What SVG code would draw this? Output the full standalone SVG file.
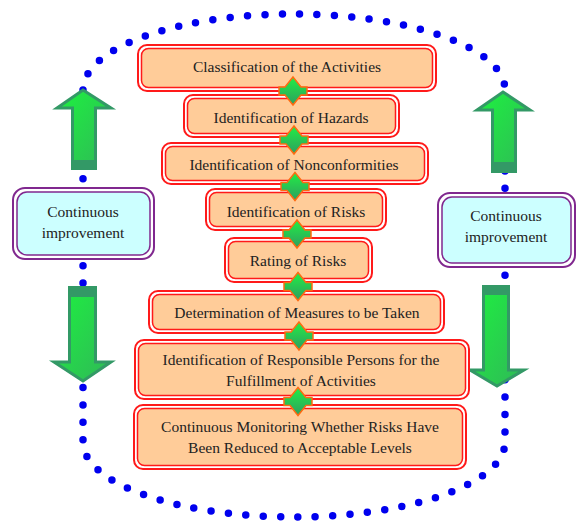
<svg xmlns="http://www.w3.org/2000/svg" width="577" height="522" viewBox="0 0 577 522">
<defs>
<linearGradient id="ag" x1="0" y1="0" x2="1" y2="1">
<stop offset="0" stop-color="#1DF23F"/>
<stop offset="1" stop-color="#30B858"/>
</linearGradient>
<linearGradient id="cg" x1="0" y1="0" x2="0" y2="1">
<stop offset="0" stop-color="#22EE44"/>
<stop offset="1" stop-color="#2E9E60"/>
</linearGradient>
<style>
.outer{fill:#fff;stroke:#FF1A1A;stroke-width:2}
.inner{fill:#FFCC99;stroke:#FF1A1A;stroke-width:1.5}
.pout{fill:#fff;stroke:#80288F;stroke-width:2}
.pin{fill:#CCFFFF;stroke:#80288F;stroke-width:1.5}
.t{font-family:"Liberation Serif","Times New Roman",serif;font-size:15.5px;fill:#222;text-anchor:middle}
.arrow{fill:url(#ag);stroke:#339966;stroke-width:3;stroke-linejoin:miter}
.band{fill:#339966}
.conn{fill:url(#cg);stroke:#FF6A10;stroke-width:1.5;stroke-linejoin:miter}
.dots{fill:none;stroke:#0000EE;stroke-width:7.5;stroke-linecap:round;stroke-dasharray:0 17.4}
</style>
</defs>
<rect width="577" height="522" fill="#fff"/>
<path class="dots" d="M83,90 A211,76 0 0 1 505,90 L505,442 A211,75 0 0 1 83,442 Z"/>

<g id="arrow-left-up">
<path class="arrow" d="M83,90 L111,108 L95.5,108 L95.5,168.5 L72.5,168.5 L72.5,108 L57,108 Z"/>
<rect class="band" x="72.5" y="160" width="23" height="9"/>
</g>
<g id="arrow-left-down">
<path class="arrow" d="M69.5,287.5 L95.5,287.5 L95.5,362 L111,362 L83,381 L54,362 L69.5,362 Z"/>
<rect class="band" x="69.5" y="287" width="26" height="10"/>
</g>
<g id="arrow-right-up">
<path class="arrow" d="M503,92 L530,110 L515.5,110 L515.5,171.5 L492.5,171.5 L492.5,110 L477,110 Z"/>
<rect class="band" x="492.5" y="162" width="23" height="10"/>
</g>
<g id="arrow-right-down">
<path class="arrow" d="M483.5,286.5 L508.5,286.5 L508.5,370 L524,370 L497,386 L470,370 L483.5,370 Z"/>
<rect class="band" x="483.5" y="286" width="25" height="9"/>
</g>

<g id="ci-left">
<rect class="pout" x="13" y="188" width="141" height="71" rx="12"/>
<rect class="pin" x="17" y="192" width="133" height="63" rx="10"/>
<text class="t" x="83" y="217">Continuous</text>
<text class="t" x="83" y="238">improvement</text>
</g>
<g id="ci-right">
<rect class="pout" x="438" y="193" width="137" height="74" rx="12"/>
<rect class="pin" x="442" y="197" width="129" height="66" rx="10"/>
<text class="t" x="506" y="221">Continuous</text>
<text class="t" x="506" y="242">improvement</text>
</g>

<g id="n1">
<rect class="outer" x="138" y="45" width="298" height="46" rx="9"/>
<rect class="inner" x="141.5" y="48.5" width="291" height="39" rx="7"/>
<text class="t" x="287" y="72">Classification of the Activities</text>
</g>
<g id="n2">
<rect class="outer" x="184" y="95" width="215" height="42" rx="9"/>
<rect class="inner" x="187.5" y="98.5" width="208" height="35" rx="7"/>
<text class="t" x="291" y="123">Identification of Hazards</text>
</g>
<g id="n3">
<rect class="outer" x="162" y="143" width="266" height="41" rx="9"/>
<rect class="inner" x="165.5" y="146.5" width="259" height="34" rx="7"/>
<text class="t" x="294" y="170">Identification of Nonconformities</text>
</g>
<g id="n4">
<rect class="outer" x="206" y="189" width="180" height="41" rx="9"/>
<rect class="inner" x="209.5" y="192.5" width="173" height="34" rx="7"/>
<text class="t" x="296" y="217">Identification of Risks</text>
</g>
<g id="n5">
<rect class="outer" x="225" y="238" width="147" height="44" rx="9"/>
<rect class="inner" x="228.5" y="241.5" width="140" height="37" rx="7"/>
<text class="t" x="298" y="266">Rating of Risks</text>
</g>
<g id="n6">
<rect class="outer" x="149" y="291" width="295" height="42" rx="9"/>
<rect class="inner" x="152.5" y="294.5" width="288" height="35" rx="7"/>
<text class="t" x="297" y="318">Determination of Measures to be Taken</text>
</g>
<g id="n7">
<rect class="outer" x="135" y="340" width="334" height="59" rx="9"/>
<rect class="inner" x="138.5" y="343.5" width="327" height="52" rx="7"/>
<text class="t" x="301" y="365">Identification of Responsible Persons for the</text>
<text class="t" x="301" y="386">Fulfillment of Activities</text>
</g>
<g id="n8">
<rect class="outer" x="134" y="405" width="332" height="64" rx="9"/>
<rect class="inner" x="137.5" y="408.5" width="325" height="57" rx="7"/>
<text class="t" x="300" y="432">Continuous Monitoring Whether Risks Have</text>
<text class="t" x="300" y="453">Been Reduced to Acceptable Levels</text>
</g>

<g id="connectors">
<path class="conn" transform="translate(293,91)" d="M0,-14 L8,-4 L14,-4 L14,4 L8,4 L0,14 L-8,4 L-14,4 L-14,-4 L-8,-4 Z"/>
<path class="conn" transform="translate(294,140)" d="M0,-14 L8,-4 L14,-4 L14,4 L8,4 L0,14 L-8,4 L-14,4 L-14,-4 L-8,-4 Z"/>
<path class="conn" transform="translate(295,186.5)" d="M0,-14 L8,-4 L14,-4 L14,4 L8,4 L0,14 L-8,4 L-14,4 L-14,-4 L-8,-4 Z"/>
<path class="conn" transform="translate(297,234)" d="M0,-14 L8,-4 L14,-4 L14,4 L8,4 L0,14 L-8,4 L-14,4 L-14,-4 L-8,-4 Z"/>
<path class="conn" transform="translate(298,286.5)" d="M0,-14 L8,-4 L14,-4 L14,4 L8,4 L0,14 L-8,4 L-14,4 L-14,-4 L-8,-4 Z"/>
<path class="conn" transform="translate(299,336)" d="M0,-14 L8,-4 L14,-4 L14,4 L8,4 L0,14 L-8,4 L-14,4 L-14,-4 L-8,-4 Z"/>
<path class="conn" transform="translate(298,401.5)" d="M0,-14 L8,-4 L14,-4 L14,4 L8,4 L0,14 L-8,4 L-14,4 L-14,-4 L-8,-4 Z"/>
</g>
</svg>
